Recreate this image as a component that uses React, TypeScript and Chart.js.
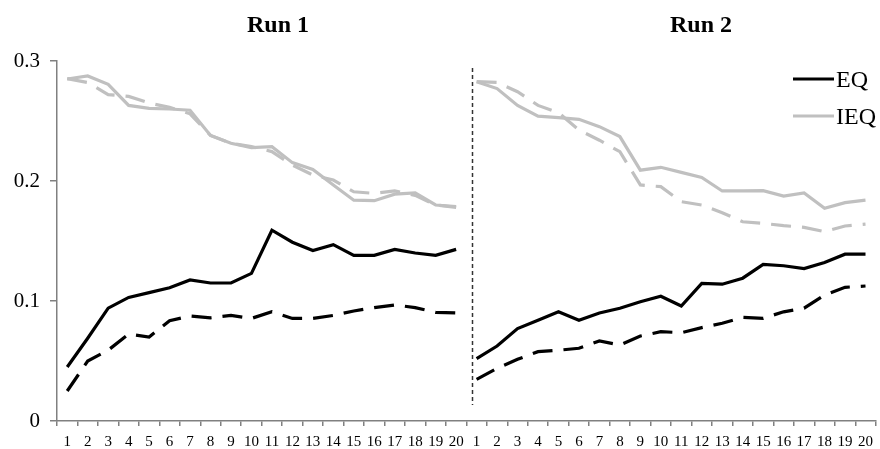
import React, { useEffect, useRef } from "react";
import { Chart, registerables } from "chart.js";

Chart.register(...registerables);

const runLabels = ["1","2","3","4","5","6","7","8","9","10","11","12","13","14","15","16","17","18","19","20"];
const categories = [...runLabels, ...runLabels];
const yTicks = [0, 0.1, 0.2, 0.3];
const runTitles = ["Run 1", "Run 2"];
const seriesNames = ["EQ", "IEQ"];

const eqSolidRun1 = [0.045,0.069,0.094,0.103,0.107,0.111,0.1175,0.115,0.115,0.123,0.159,0.149,0.142,0.147,0.138,0.138,0.143,0.140,0.138,0.143];
const eqSolidRun2 = [0.052,0.0625,0.077,0.084,0.091,0.084,0.090,0.094,0.0994,0.104,0.0958,0.1147,0.114,0.119,0.1305,0.1294,0.127,0.132,0.139,0.139];
const eqDashRun1 = [0.025,0.050,0.059,0.0725,0.070,0.0836,0.0875,0.086,0.088,0.0855,0.091,0.0855,0.0855,0.088,0.0917,0.0945,0.0967,0.0945,0.0905,0.090];
const eqDashRun2 = [0.0347,0.0439,0.0514,0.0578,0.059,0.0606,0.0667,0.0633,0.0708,0.0744,0.0736,0.0778,0.0814,0.0864,0.0856,0.091,0.094,0.105,0.1114,0.1125];
const ieqSolidRun1 = [0.285,0.2875,0.2806,0.263,0.2606,0.260,0.259,0.238,0.2314,0.2278,0.2286,0.2153,0.2097,0.1967,0.184,0.1836,0.189,0.190,0.180,0.1786];
const ieqSolidRun2 = [0.2828,0.277,0.263,0.254,0.2528,0.2514,0.2453,0.237,0.209,0.2114,0.2072,0.203,0.1917,0.1917,0.192,0.1875,0.190,0.1772,0.182,0.184];
const ieqDashRun1 = [0.2853,0.282,0.272,0.2705,0.265,0.2614,0.256,0.238,0.2314,0.2286,0.2245,0.2133,0.205,0.2008,0.191,0.1897,0.1917,0.188,0.180,0.178];
const ieqDashRun2 = [0.2828,0.2822,0.2744,0.263,0.257,0.2425,0.234,0.2244,0.1967,0.1953,0.1828,0.180,0.1736,0.166,0.1647,0.1628,0.1614,0.1578,0.1625,0.164];

const BLACK = "#000000";
const GRAY = "#c0c0c0";
const AXIS = "#808080";
const SERIF = "'Liberation Serif', 'Times New Roman', serif";

const hideGap = (ctx: any) => (ctx.p0DataIndex === runLabels.length - 1 ? "rgba(0,0,0,0)" : undefined);

const decorPlugin = {
  id: "decor",
  afterDraw(chart: any) {
    const { ctx, chartArea, scales } = chart;
    const x = scales.x;
    ctx.save();
    // divider between runs
    const i19 = x.getPixelForValue(runLabels.length - 1);
    const i20 = x.getPixelForValue(runLabels.length);
    const dx = i19 + (i20 - i19) * 0.8;
    ctx.strokeStyle = "#333333";
    ctx.lineWidth = 1.5;
    ctx.setLineDash([4, 3]);
    ctx.beginPath();
    ctx.moveTo(dx, chartArea.top + 7);
    ctx.lineTo(dx, chartArea.bottom - 16);
    ctx.stroke();
    ctx.setLineDash([]);
    // run titles
    ctx.fillStyle = "#000";
    ctx.font = `bold 24px ${SERIF}`;
    ctx.textAlign = "center";
    ctx.textBaseline = "alphabetic";
    ctx.fillText(runTitles[0], 278, 32);
    ctx.fillText(runTitles[1], 701, 32);
    // legend
    const colors = [BLACK, GRAY];
    const ys = [80, 117];
    ctx.font = `24px ${SERIF}`;
    ctx.textAlign = "left";
    ctx.textBaseline = "middle";
    seriesNames.forEach((n, k) => {
      ctx.strokeStyle = colors[k];
      ctx.lineWidth = 3;
      ctx.beginPath();
      ctx.moveTo(793, ys[k] - 1);
      ctx.lineTo(834, ys[k] - 1);
      ctx.stroke();
      ctx.fillStyle = "#000";
      ctx.fillText(n, 836, ys[k] + 1);
    });
    ctx.restore();
  },
};

export default function App() {
  const ref = useRef<HTMLCanvasElement | null>(null);
  useEffect(() => {
    if (!ref.current) return;
    const mk = (label: string, data: number[], color: string, dashed: boolean) => ({
      label,
      data,
      borderColor: color,
      backgroundColor: color,
      borderWidth: 3.2,
      borderDash: dashed ? [20, 11] : [],
      pointRadius: 0,
      tension: 0,
      fill: false,
      segment: { borderColor: hideGap },
    });
    const chart = new Chart(ref.current, {
      type: "line",
      data: {
        labels: categories,
        datasets: [
          mk("IEQ dashed", [...ieqDashRun1, ...ieqDashRun2], GRAY, true),
          mk("IEQ", [...ieqSolidRun1, ...ieqSolidRun2], GRAY, false),
          mk("EQ dashed", [...eqDashRun1, ...eqDashRun2], BLACK, true),
          mk("EQ", [...eqSolidRun1, ...eqSolidRun2], BLACK, false),
        ],
      },
      options: {
        responsive: false,
        animation: false,
        devicePixelRatio: 1,
        layout: { padding: { top: 61, right: 0, left: 0, bottom: 0 } },
        plugins: { legend: { display: false }, title: { display: false }, tooltip: { enabled: false } },
        scales: {
          x: {
            type: "category",
            offset: true,
            grid: { offset: true, drawOnChartArea: false, drawTicks: true, tickLength: 5, color: AXIS, lineWidth: 1.5 },
            border: { display: true, color: AXIS, width: 1.5 },
            ticks: { autoSkip: false, maxRotation: 0, minRotation: 0, color: "#000", font: { family: SERIF, size: 15 }, padding: 7 },
            afterFit: (s: any) => { s.height = 28; },
          },
          y: {
            min: 0,
            max: 0.3,
            afterBuildTicks: (s: any) => { s.ticks = yTicks.map((v) => ({ value: v })); },
            grid: { drawOnChartArea: false, drawTicks: true, tickLength: 7, color: AXIS, lineWidth: 1.5 },
            border: { display: true, color: AXIS, width: 1.5 },
            ticks: { color: "#000", font: { family: SERIF, size: 21 }, padding: 10, callback: (v: any) => String(Math.round(v * 10) / 10) },
            afterFit: (s: any) => { s.width = 57; },
          },
        },
      },
      plugins: [decorPlugin],
    });
    return () => chart.destroy();
  }, []);
  return (
    <div style={{ position: "absolute", left: 0, top: 0, width: 880, height: 449, background: "#fff" }}>
      <canvas ref={ref} width={880} height={449} />
    </div>
  );
}
